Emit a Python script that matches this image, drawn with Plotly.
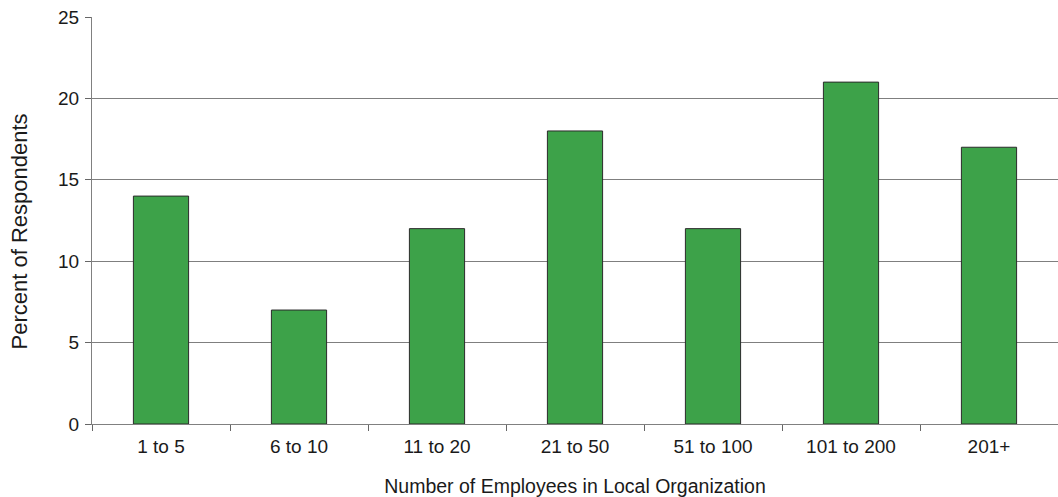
import plotly.graph_objects as go

categories = ["1 to 5", "6 to 10", "11 to 20", "21 to 50", "51 to 100", "101 to 200", "201+"]
percent = [14, 7, 12, 18, 12, 21, 17]
y_ticks = [0, 5, 10, 15, 20, 25]

FONT = "Liberation Sans, Arial, sans-serif"

fig = go.Figure(
    go.Bar(
        x=categories,
        y=percent,
        marker=dict(color="#3da249", line=dict(color="#2b2b2b", width=1)),
        hoverinfo="x+y",
    )
)

fig.update_layout(
    width=1058,
    height=497,
    margin=dict(l=92, r=0, t=17, b=73),
    paper_bgcolor="white",
    plot_bgcolor="white",
    bargap=0.6,
    showlegend=False,
    font=dict(family=FONT, size=19, color="#1a1a1a"),
)

fig.update_xaxes(
    type="category",
    tickson="boundaries",
    ticks="outside",
    ticklen=6,
    tickcolor="#666666",
    tickwidth=1.3,
    showline=True,
    linecolor="#808080",
    linewidth=1.3,
    showgrid=False,
    tickfont=dict(size=19),
    ticklabelstandoff=5,
    title=dict(text="Number of Employees in Local Organization", font=dict(size=19.5), standoff=24),
)

fig.update_yaxes(
    range=[0, 25],
    tickvals=y_ticks,
    ticks="outside",
    ticklen=6,
    tickcolor="#666666",
    tickwidth=1.3,
    showline=True,
    linecolor="#808080",
    linewidth=1.3,
    showgrid=True,
    gridcolor="#7f7f7f",
    gridwidth=1.3,
    zeroline=False,
    tickfont=dict(size=19),
    ticklabelstandoff=2,
)

fig.add_annotation(
    text="Percent of Respondents",
    textangle=-90,
    xref="paper",
    yref="paper",
    x=(18.5 - 92) / 966,
    y=(424 - 232) / 407,
    xanchor="center",
    yanchor="middle",
    showarrow=False,
    font=dict(size=22, family=FONT, color="#1a1a1a"),
)

fig.write_html("out.html")
